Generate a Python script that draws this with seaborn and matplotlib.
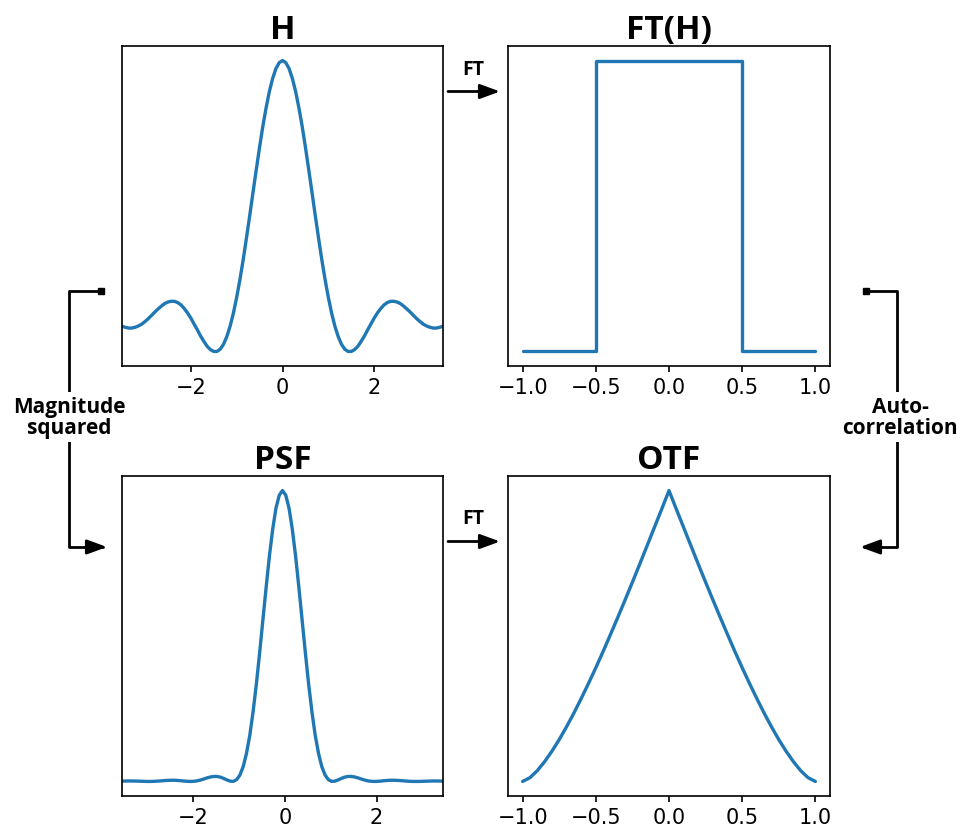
import matplotlib
matplotlib.use("Agg")
import matplotlib.pyplot as plt
import seaborn as sns
from matplotlib.patches import FancyArrowPatch
from matplotlib.path import Path
from matplotlib.lines import Line2D

# ---------------- data ----------------
h_x = [-3.5, -3.429, -3.357, -3.286, -3.214, -3.143, -3.071, -3.0, -2.929, -2.857,
       -2.786, -2.714, -2.643, -2.571, -2.5, -2.429, -2.357, -2.286, -2.214, -2.143,
       -2.071, -2.0, -1.929, -1.857, -1.786, -1.714, -1.643, -1.571, -1.5, -1.429,
       -1.357, -1.286, -1.214, -1.143, -1.071, -1.0, -0.929, -0.857, -0.786, -0.714,
       -0.643, -0.571, -0.5, -0.429, -0.357, -0.286, -0.214, -0.143, -0.071,
       0.0,
       0.071, 0.143, 0.214, 0.286, 0.357, 0.429, 0.5, 0.571, 0.643, 0.714,
       0.786, 0.857, 0.929, 1.0, 1.071, 1.143, 1.214, 1.286, 1.357, 1.429,
       1.5, 1.571, 1.643, 1.714, 1.786, 1.857, 1.929, 2.0, 2.071, 2.143,
       2.214, 2.286, 2.357, 2.429, 2.5, 2.571, 2.643, 2.714, 2.786, 2.857,
       2.929, 3.0, 3.071, 3.143, 3.214, 3.286, 3.357, 3.429, 3.5]
h_y = [-0.033, -0.037, -0.040, -0.040, -0.037, -0.032, -0.025, -0.015, -0.004, 0.009,
       0.022, 0.034, 0.045, 0.055, 0.061, 0.064, 0.064, 0.059, 0.050, 0.036,
       0.019, -0.001, -0.024, -0.047, -0.071, -0.092, -0.111, -0.124, -0.131, -0.131,
       -0.122, -0.103, -0.073, -0.033, 0.018, 0.079, 0.148, 0.226, 0.310, 0.398,
       0.488, 0.577, 0.663, 0.744, 0.817, 0.880, 0.931, 0.969, 0.992,
       1.0,
       0.992, 0.969, 0.931, 0.880, 0.817, 0.744, 0.663, 0.577, 0.488, 0.398,
       0.310, 0.226, 0.148, 0.079, 0.018, -0.033, -0.073, -0.103, -0.122, -0.131,
       -0.131, -0.124, -0.111, -0.092, -0.071, -0.047, -0.024, -0.001, 0.019, 0.036,
       0.050, 0.059, 0.064, 0.064, 0.061, 0.055, 0.045, 0.034, 0.022, 0.009,
       -0.004, -0.015, -0.025, -0.032, -0.037, -0.040, -0.040, -0.037, -0.033]

pupil_x = [-1.0, -0.5, -0.5, 0.5, 0.5, 1.0]
pupil_y = [0.0, 0.0, 1.0, 1.0, 0.0, 0.0]

psf_x = [-3.55, -3.479, -3.407, -3.336, -3.264, -3.193, -3.121, -3.05, -2.979, -2.907,
         -2.836, -2.764, -2.693, -2.621, -2.55, -2.479, -2.407, -2.336, -2.264, -2.193,
         -2.121, -2.05, -1.979, -1.907, -1.836, -1.764, -1.693, -1.621, -1.55, -1.479,
         -1.407, -1.336, -1.264, -1.193, -1.121, -1.05, -0.979, -0.907, -0.836, -0.764,
         -0.693, -0.621, -0.55, -0.479, -0.407, -0.336, -0.264, -0.193, -0.121,
         -0.05,
         0.021, 0.093, 0.164, 0.236, 0.307, 0.379, 0.45, 0.521, 0.593, 0.664,
         0.736, 0.807, 0.879, 0.95, 1.021, 1.093, 1.164, 1.236, 1.307, 1.379,
         1.45, 1.521, 1.593, 1.664, 1.736, 1.807, 1.879, 1.95, 2.021, 2.093,
         2.164, 2.236, 2.307, 2.379, 2.45, 2.521, 2.593, 2.664, 2.736, 2.807,
         2.879, 2.95, 3.021, 3.093, 3.164, 3.236, 3.307, 3.379, 3.45]
psf_y = [0.0011, 0.0014, 0.0016, 0.0016, 0.0014, 0.0010, 0.0006, 0.0002, 0.0, 0.0001,
         0.0005, 0.0012, 0.0020, 0.0030, 0.0037, 0.0041, 0.0041, 0.0035, 0.0025, 0.0013,
         0.0004, 0.0, 0.0006, 0.0022, 0.0050, 0.0085, 0.0123, 0.0154, 0.0172, 0.0172,
         0.0149, 0.0106, 0.0053, 0.0011, 0.0003, 0.0062, 0.022, 0.051, 0.096, 0.158,
         0.238, 0.333, 0.440, 0.553, 0.667, 0.774, 0.867, 0.939, 0.984,
         1.0,
         0.984, 0.939, 0.867, 0.774, 0.667, 0.553, 0.440, 0.333, 0.238, 0.158,
         0.096, 0.051, 0.022, 0.0062, 0.0003, 0.0011, 0.0053, 0.0106, 0.0149, 0.0172,
         0.0172, 0.0154, 0.0123, 0.0085, 0.0050, 0.0022, 0.0006, 0.0, 0.0004, 0.0013,
         0.0025, 0.0035, 0.0041, 0.0041, 0.0037, 0.0030, 0.0020, 0.0012, 0.0005, 0.0001,
         0.0, 0.0002, 0.0006, 0.0010, 0.0014, 0.0016, 0.0016, 0.0014, 0.0011]

otf_x = [-1.0, -0.95, -0.9, -0.85, -0.8, -0.75, -0.7, -0.65, -0.6, -0.55,
         -0.5, -0.45, -0.4, -0.35, -0.3, -0.25, -0.2, -0.15, -0.1, -0.05,
         0.0, 0.05, 0.1, 0.15, 0.2, 0.25, 0.3, 0.35, 0.4, 0.45,
         0.5, 0.55, 0.6, 0.65, 0.7, 0.75, 0.8, 0.85, 0.9, 0.95, 1.0]
otf_y = [0.0, 0.013, 0.037, 0.068, 0.104, 0.144, 0.188, 0.235, 0.285, 0.337,
         0.391, 0.447, 0.505, 0.564, 0.624, 0.685, 0.747, 0.810, 0.873, 0.936,
         1.0, 0.936, 0.873, 0.810, 0.747, 0.685, 0.624, 0.564, 0.505, 0.447,
         0.391, 0.337, 0.285, 0.235, 0.188, 0.144, 0.104, 0.068, 0.037, 0.013, 0.0]

titles = ["H", "FT(H)", "PSF", "OTF"]
h_ticks = [-2, 0, 2]
f_ticks = [-1.0, -0.5, 0.0, 0.5, 1.0]
label_left = "Magnitude\nsquared"
label_right = "Auto-\ncorrelation"
label_ft = "FT"

# ---------------- style ----------------
sns.set_style("ticks")
plt.rcParams["font.family"] = ["DejaVu Sans"]
plt.rcParams["text.color"] = "black"
plt.rcParams["axes.edgecolor"] = "black"
plt.rcParams["axes.titlecolor"] = "black"
plt.rcParams["xtick.color"] = "black"
plt.rcParams["xtick.labelcolor"] = "black"
plt.rcParams["axes.linewidth"] = 1.2

W, H = 957, 837
fig = plt.figure(figsize=(W / 100, H / 100), dpi=100)
fig.patch.set_facecolor("white")


def ax_at(l, t, r, b):
    return fig.add_axes([l / W, 1 - b / H, (r - l) / W, (b - t) / H])


def px(x, y):
    return (x / W, 1 - y / H)


ax_h = ax_at(122, 47, 443, 367)
ax_p = ax_at(508, 47, 830, 367)
ax_psf = ax_at(122, 477, 443, 797)
ax_otf = ax_at(508, 477, 830, 797)

blue = "#1f77b4"
lw = 2.4

sns.lineplot(x=h_x, y=h_y, ax=ax_h, color=blue, lw=lw, estimator=None, sort=False)
sns.lineplot(x=pupil_x, y=pupil_y, ax=ax_p, color=blue, lw=lw, estimator=None, sort=False)
sns.lineplot(x=psf_x, y=psf_y, ax=ax_psf, color=blue, lw=lw, estimator=None, sort=False)
sns.lineplot(x=otf_x, y=otf_y, ax=ax_otf, color=blue, lw=lw, estimator=None, sort=False)

ax_h.set_xlim(min(h_x), max(h_x))
ax_psf.set_xlim(min(psf_x), max(psf_x))
for ax in (ax_h, ax_psf):
    ax.set_xticks(h_ticks)
for ax in (ax_p, ax_otf):
    ax.set_xticks(f_ticks)

for ax, t in zip((ax_h, ax_p, ax_psf, ax_otf), titles):
    ax.set_yticks([])
    ax.set_ylabel("")
    ax.set_xlabel("")
    ax.tick_params(axis="x", labelsize=15, length=4.5, width=1.2, colors="black")
    ax.set_title(t, fontsize=24, fontweight="bold", color="black",
                 family=["Open Sans", "DejaVu Sans"], pad=6)
    for s in ax.spines.values():
        s.set_visible(True)
        s.set_color("black")
        s.set_linewidth(1.2)

# ---------------- arrows & labels ----------------
arrow_kw = dict(arrowstyle="-|>,head_length=0.6,head_width=0.22", mutation_scale=20,
                color="black", lw=2.0, transform=fig.transFigure, zorder=3)
text_kw = dict(ha="center", va="center", fontweight="bold", color="black",
               family=["Open Sans", "DejaVu Sans"])

for y_arrow, y_text in ((92.5, 70), (542.5, 519)):
    fig.add_artist(FancyArrowPatch(px(448, y_arrow), px(500, y_arrow),
                                   shrinkA=0, shrinkB=0, **arrow_kw))
    fig.text(*px(473, y_text), label_ft, fontsize=14, **text_kw)

# left bracket
left_path = Path([px(101, 292), px(69, 292), px(69, 548), px(107, 548)])
fig.add_artist(FancyArrowPatch(path=left_path, **arrow_kw))
fig.add_artist(Line2D([101 / W], [1 - 292 / H], marker="s", markersize=5, color="black",
                      transform=fig.transFigure, zorder=4))
fig.text(*px(69, 418), label_left, fontsize=15, linespacing=1.0,
         bbox=dict(fc="white", ec="none", pad=3), zorder=5, **text_kw)

# right bracket
right_path = Path([px(866, 292), px(897, 292), px(897, 548), px(860, 548)])
fig.add_artist(FancyArrowPatch(path=right_path, **arrow_kw))
fig.add_artist(Line2D([866 / W], [1 - 292 / H], marker="s", markersize=5, color="black",
                      transform=fig.transFigure, zorder=4))
fig.text(*px(900, 418), label_right, fontsize=15, linespacing=1.0,
         bbox=dict(fc="white", ec="none", pad=3), zorder=5, **text_kw)

fig.savefig("out.png", dpi=100, facecolor="white")
